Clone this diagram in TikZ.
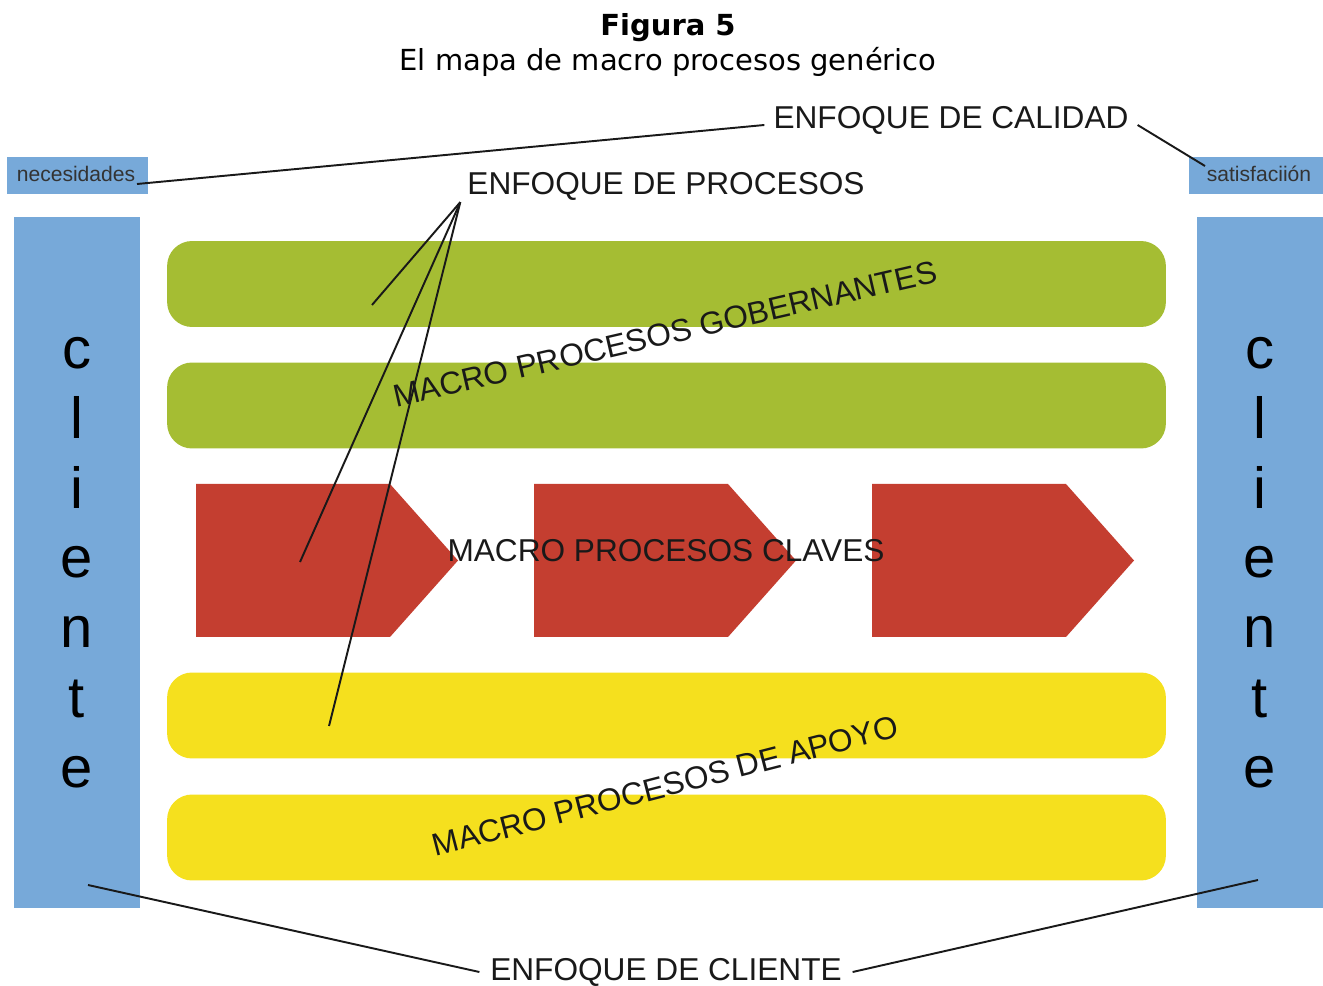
\documentclass[tikz,border=0pt]{standalone}
\usepackage{fontspec}
\setmainfont{Liberation Sans}
\newfontfamily\titlefont{DejaVu Sans}
\usetikzlibrary{positioning}

\definecolor{azul}{HTML}{77A9D9}
\definecolor{verde}{HTML}{A5BD33}
\definecolor{amarillo}{HTML}{F5E01E}
\definecolor{rojo}{HTML}{C43E30}

\tikzset{
  caja/.style={fill=azul, inner sep=0pt},
  banda/.style={rounded corners=0.5cm, inner sep=0pt, minimum width=19.98cm, minimum height=1.72cm},
  etiqueta/.style={font=\fontsize{18}{20}\selectfont, text=black!90, inner sep=1pt},
  guia/.style={line width=1.1pt, black!90},
}

\begin{document}
\begin{tikzpicture}[x=0.02cm, y=-0.02cm]
  \useasboundingbox (0,0) rectangle (1323,986);
  % titulo
  \node[font=\titlefont\bfseries\fontsize{16.5}{20}\selectfont] (titulo) at (668,28) {Figura 5};
  \node[font=\titlefont\fontsize{16.5}{20}\selectfont] (subtitulo) at (668,62) {El mapa de macro procesos genérico};

  % cliente a ambos lados
  \node[caja, minimum width=2.82cm, minimum height=0.74cm] (necesidades) at (77.5,175.5) {};
  \node[font=\fontsize{12}{14}\selectfont, text=black!80] (necesidadestxt) at (76,174) {necesidades};
  \node[caja, minimum width=2.68cm, minimum height=0.74cm] (satisfaccion) at (1256,175.5) {};
  \node[font=\fontsize{12}{14}\selectfont, text=black!80] (satisfacciontxt) at (1259,174) {satisfaciión};
  \node[caja, minimum width=2.52cm, minimum height=13.82cm, align=center,
        font=\fontsize{33}{39.7}\selectfont] (clienteizq) at (77,562.5) {c\\l\\i\\e\\n\\t\\e};
  \node[caja, minimum width=2.52cm, minimum height=13.82cm, align=center,
        font=\fontsize{33}{39.7}\selectfont] (clienteder) at (1260,562.5) {c\\l\\i\\e\\n\\t\\e};

  % macro procesos
  \node[banda, fill=verde] (gob1) at (666.5,284) {};
  \node[banda, fill=verde] (gob2) at (666.5,405.5) {};
  \node[banda, fill=amarillo] (apo1) at (666.5,715.5) {};
  \node[banda, fill=amarillo] (apo2) at (666.5,837.5) {};
  \foreach \x in {196,534,872}
    \fill[rojo] (\x,484) -- ++(194,0) -- ++(68,76.5) -- ++(-68,76.5) -- ++(-194,0) -- cycle;

  \node[etiqueta, rotate=13] (gobernantes) at (665,334) {MACRO PROCESOS GOBERNANTES};
  \node[etiqueta] (claves) at (666,551) {MACRO PROCESOS CLAVES};
  \node[etiqueta, rotate=14.5] (apoyo) at (665,786) {MACRO PROCESOS DE APOYO};

  % enfoques
  \node[etiqueta, inner sep=5pt] (calidad) at (951,120) {ENFOQUE DE CALIDAD};
  \node[etiqueta] (procesos) at (666,186) {ENFOQUE DE PROCESOS};
  \node[etiqueta, inner sep=6pt] (cliente) at (666,972) {ENFOQUE DE CLIENTE};

  \coordinate (necpunto) at (137,184);
  \coordinate (satpunto) at (1205,166);
  \coordinate (gobpunto) at (372,305);
  \coordinate (clavpunto) at (300,562);
  \coordinate (apopunto) at (329,726);
  \coordinate (izqpunto) at (88,885);
  \coordinate (derpunto) at (1258,880);

  \draw[guia] ([yshift=-0.1cm]calidad.west) -- (necpunto);
  \draw[guia] ([yshift=-0.1cm]calidad.east) -- (satpunto);
  \foreach \p in {gobpunto,clavpunto,apopunto}
    \draw[guia] ([xshift=-0.1cm]procesos.south west) -- (\p);
  \draw[guia] (cliente.west) -- (izqpunto);
  \draw[guia] (cliente.east) -- (derpunto);
\end{tikzpicture}
\end{document}
